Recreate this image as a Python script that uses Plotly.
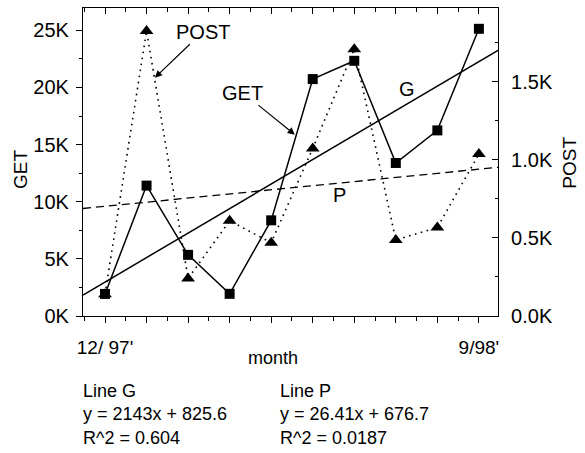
import plotly.graph_objects as go

# Monthly request counts, Dec 1997 – Sep 1998
months = ["Dec 97", "Jan 98", "Feb 98", "Mar 98", "Apr 98", "May 98",
          "Jun 98", "Jul 98", "Aug 98", "Sep 98"]
get_requests = [1930, 11410, 5350, 1940, 8370, 20730, 22330, 13390, 16240, 25130]
post_requests = [140, 1827, 240, 610, 470, 1074, 1710, 487, 567, 1038]

x_tick_text = ["12/ 97'", "", "", "", "", "", "", "", "", "9/98'"]
get_tick_vals = [0, 5000, 10000, 15000, 20000, 25000]
get_tick_text = ["0K", "5K", "10K", "15K", "20K", "25K"]
post_tick_vals = [0, 500, 1000, 1500]
post_tick_text = ["0.0K", "0.5K", "1.0K", "1.5K"]

# Linear trend fits (x = month number starting at 1)
line_g = {"slope": 2143, "intercept": 825.6, "r2": 0.604}
line_p = {"slope": 26.41, "intercept": 676.7, "r2": 0.0187}

x_idx = list(range(1, len(months) + 1))
x_range = [0.47, len(months) + 0.46]
get_range = [0, 26950]
post_range = [0, 1974]

FONT = "Liberation Sans, Arial, sans-serif"
INK = "black"


def trend(fit, xs):
    return [fit["slope"] * x + fit["intercept"] for x in xs]


fig = go.Figure()

# Trend lines spanning the whole month axis
fig.add_trace(go.Scatter(
    x=x_range, y=trend(line_p, x_range), yaxis="y2", mode="lines",
    line=dict(color=INK, width=1.3, dash="8px,5px"), hoverinfo="skip"))
fig.add_trace(go.Scatter(
    x=x_range, y=trend(line_g, x_range), xaxis="x2", mode="lines",
    line=dict(color=INK, width=1.5), hoverinfo="skip"))

# POST requests (right axis)
fig.add_trace(go.Scatter(
    x=x_idx, y=post_requests, yaxis="y2", mode="lines+markers", name="POST",
    text=months,
    line=dict(color=INK, width=1.6, dash="1.6px,4.5px"),
    marker=dict(symbol="triangle-up", size=12, color=INK)))

# GET requests (left axis)
fig.add_trace(go.Scatter(
    x=x_idx, y=get_requests, mode="lines+markers", name="GET",
    text=months,
    line=dict(color=INK, width=1.5),
    marker=dict(symbol="square", size=10, color=INK)))

axis_font = dict(family=FONT, size=20, color=INK)

fig.update_layout(
    width=585, height=453,
    margin=dict(l=83, r=87, t=8, b=137),
    paper_bgcolor="white", plot_bgcolor="white",
    showlegend=False,
    font=dict(family=FONT, color=INK),
    xaxis=dict(
        range=x_range, tickmode="array", tickvals=x_idx, ticktext=x_tick_text,
        ticks="outside", ticklen=6, tickwidth=1, tickcolor=INK,
        minor=dict(tickmode="linear", tick0=0.5, dtick=1, ticks="outside",
                   ticklen=4, tickcolor=INK),
        showline=True, linecolor=INK, linewidth=1.2,
        showgrid=False, zeroline=False,
        tickfont=dict(family=FONT, size=19, color=INK),
        ticklabelstandoff=8,
    ),
    xaxis2=dict(
        overlaying="x", side="top", matches="x", range=x_range,
        tickmode="array", tickvals=x_idx, ticks="inside", ticklen=6,
        tickcolor=INK,
        minor=dict(tickmode="linear", tick0=0.5, dtick=1, ticks="inside",
                   ticklen=4, tickcolor=INK),
        showticklabels=False, showline=True, linecolor=INK, linewidth=1.2,
        showgrid=False, zeroline=False,
    ),
    yaxis=dict(
        range=get_range, tickmode="array", tickvals=get_tick_vals,
        ticktext=get_tick_text, ticks="outside", ticklen=6, tickcolor=INK,
        minor=dict(tickmode="linear", tick0=0, dtick=2500, ticks="outside",
                   ticklen=3, tickcolor=INK),
        showline=True, linecolor=INK, linewidth=1.2,
        showgrid=False, zeroline=False, tickfont=axis_font,
        ticklabelstandoff=3,
    ),
    yaxis2=dict(
        overlaying="y", side="right", range=post_range, tickmode="array",
        tickvals=post_tick_vals, ticktext=post_tick_text,
        ticks="inside", ticklen=6, tickcolor=INK,
        minor=dict(tickmode="linear", tick0=0, dtick=250, ticks="inside",
                   ticklen=3, tickcolor=INK),
        showline=True, linecolor=INK, linewidth=1.2,
        showgrid=False, zeroline=False, tickfont=axis_font,
        ticklabelstandoff=8,
    ),
)

ann_font = dict(family=FONT, size=20, color=INK)
small_font = dict(family=FONT, size=18, color=INK)
title_font = dict(family=FONT, size=19, color=INK)

annotations = [
    # series call-outs
    dict(x=2.2, y=20850, xref="x", yref="y", text="POST", ax=48, ay=-46,
         showarrow=True, arrowhead=2, arrowsize=1.2, arrowwidth=1.2,
         arrowcolor=INK, font=ann_font),
    dict(x=5.57, y=15870, xref="x", yref="y", text="GET", ax=-52, ay=-42,
         showarrow=True, arrowhead=2, arrowsize=1.2, arrowwidth=1.2,
         arrowcolor=INK, font=ann_font),
    # trend line labels
    dict(x=8.27, y=19900, xref="x", yref="y", text="G", showarrow=False,
         font=ann_font),
    dict(x=6.65, y=10600, xref="x", yref="y", text="P", showarrow=False,
         font=ann_font),
    # axis titles
    dict(x=-0.152, y=0.477, xref="paper", yref="paper", text="GET",
         xanchor="center", yanchor="middle",
         textangle=-90, showarrow=False, font=title_font),
    dict(x=1.173, y=0.497, xref="paper", yref="paper", text="POST",
         xanchor="center", yanchor="middle",
         textangle=-90, showarrow=False, font=title_font),
    dict(x=0.458, y=-0.135, xref="paper", yref="paper", text="month",
         xanchor="center", yanchor="middle",
         showarrow=False, font=small_font),
    # fit equations
    dict(x=-0.005, y=-0.321, xref="paper", yref="paper", xanchor="left",
         yanchor="middle", align="left", showarrow=False, font=small_font,
         text=(f"Line G<br>y = {line_g['slope']}x + {line_g['intercept']}"
               f"<br>R^2 = {line_g['r2']}")),
    dict(x=0.47, y=-0.321, xref="paper", yref="paper", xanchor="left",
         yanchor="middle", align="left", showarrow=False, font=small_font,
         text=(f"Line P<br>y = {line_p['slope']}x + {line_p['intercept']}"
               f"<br>R^2 = {line_p['r2']}")),
]
fig.update_layout(annotations=annotations)

fig.write_html("out.html")
